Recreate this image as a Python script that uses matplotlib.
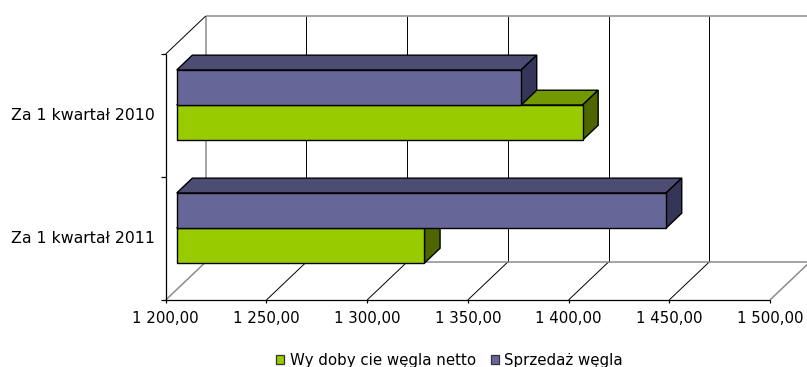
import matplotlib
matplotlib.use('Agg')
import matplotlib.pyplot as plt
import matplotlib.transforms as mtransforms
from matplotlib.patches import Polygon, Patch

# ── Data ──────────────────────────────────────────────────────────────────────
categories = ['Za 1 kwartał 2011', 'Za 1 kwartał 2010']   # bottom → top
series_names = ['Wy doby cie węgla netto', 'Sprzedaż węgla']
wydobycie = [1323.0, 1401.5]
sprzedaz = [1443.0, 1371.0]
ticks = [1200, 1250, 1300, 1350, 1400, 1450, 1500]

# ── Palette (front, top, side) ────────────────────────────────────────────────
GREEN = ('#99cc00', '#739900', '#4d6600')
PURPLE = ('#666699', '#4d4d73', '#35355a')
GRID = '#000000'
EDGE = '#8c8c8c'

# ── Geometry of the oblique 3D box ───────────────────────────────────────────
DX, DY = 19.86, 0.309      # shift of the back wall, in data units
D0, D1 = 0.275, 0.665      # depth of bar front / back faces
BAR_H = 0.285
BASE = ticks[0]
Y_LO, Y_HI = -0.5, len(categories) - 0.5

plt.rcParams['font.family'] = ['DejaVu Sans']
FS = 10.8

fig = plt.figure(figsize=(8.07, 3.67), dpi=100)
ax = fig.add_axes([0, 0, 1, 1])


def proj(x, y, d):
    return (x + d * DX, y + d * DY)


def line(p, q, color, lw, z=1):
    ax.plot([p[0], q[0]], [p[1], q[1]], color=color, lw=lw, zorder=z,
            solid_capstyle='butt', clip_on=False)


# ── Back wall and floor ───────────────────────────────────────────────────────
for t in ticks:
    outer = t in (ticks[0], ticks[-1])
    col, lw = (EDGE, 1.1) if outer else (GRID, 0.7)
    line(proj(t, Y_LO, 1), proj(t, Y_HI, 1), col, lw)
    line(proj(t, Y_LO, 0), proj(t, Y_LO, 1), col, lw)
line(proj(ticks[0], Y_HI, 1), proj(ticks[-1], Y_HI, 1), EDGE, 1.1)
line(proj(ticks[0], Y_LO, 1), proj(ticks[-1], Y_LO, 1), EDGE, 1.1)
line(proj(BASE, Y_HI, 0), proj(BASE, Y_HI, 1), GRID, 0.7)

# ── Bars ──────────────────────────────────────────────────────────────────────
front_tr = mtransforms.Affine2D().translate(D0 * DX, D0 * DY) + ax.transData


def bar3d(y0, value, colors):
    face, top, side = colors
    yt = y0 + BAR_H
    ax.add_patch(Polygon([proj(BASE, yt, D0), proj(value, yt, D0),
                          proj(value, yt, D1), proj(BASE, yt, D1)],
                         closed=True, fc=top, ec='black', lw=1.0, zorder=3))
    ax.add_patch(Polygon([proj(value, y0, D0), proj(value, yt, D0),
                          proj(value, yt, D1), proj(value, y0, D1)],
                         closed=True, fc=side, ec='black', lw=1.0, zorder=3))
    ax.barh(y0 + BAR_H / 2, value - BASE, left=BASE, height=BAR_H,
            color=face, edgecolor='black', linewidth=1.0, zorder=3,
            transform=front_tr)


for i in range(len(categories)):
    bar3d(i - BAR_H, wydobycie[i], GREEN)
    bar3d(i, sprzedaz[i], PURPLE)

# ── Front axes ────────────────────────────────────────────────────────────────
line((BASE, Y_LO), (BASE, Y_HI), 'black', 0.9, z=5)
line((BASE, Y_LO), (ticks[-1], Y_LO), 'black', 0.9, z=5)
for yb in [Y_LO + k for k in range(len(categories) + 1)]:
    line((BASE - 2.6, yb), (BASE, yb), 'black', 0.9, z=5)
for t in ticks:
    line((t, Y_LO - 0.025), (t, Y_LO), 'black', 0.9, z=5)
    lbl = f'{t:,.2f}'.replace(',', ' ').replace('.', ',')
    ax.annotate(lbl, xy=(t, Y_LO), xytext=(0, -13.2),
                textcoords='offset points', ha='center', va='center',
                fontsize=FS, color='black')

for i, cat in enumerate(categories):
    ax.annotate(cat, xy=(BASE, i), xytext=(-7.7, 0),
                textcoords='offset points', ha='right', va='center',
                fontsize=11.3, color='black')

ax.set_xlim(1117.7, 1518.4)
ax.set_ylim(-1.045, 1.939)
ax.axis('off')

# ── Legend ────────────────────────────────────────────────────────────────────
handles = [Patch(fc=GREEN[0], ec='#333333', lw=0.9),
           Patch(fc=PURPLE[0], ec='#333333', lw=0.9)]
fig.legend(handles, series_names, loc='center',
           bbox_to_anchor=(0.557, 6.5 / 367), ncol=2, frameon=False,
           fontsize=FS, handlelength=0.55, handleheight=0.55,
           handletextpad=0.35, columnspacing=1.0, borderpad=0)

fig.savefig('out.png', dpi=100, facecolor='white')
